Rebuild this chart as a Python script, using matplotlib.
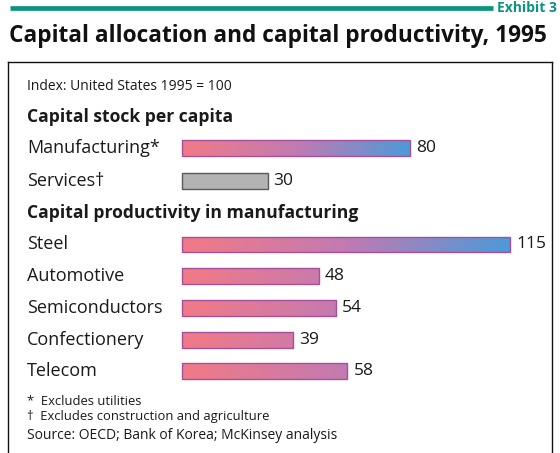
import numpy as np
import matplotlib
matplotlib.use("Agg")
from matplotlib import pyplot as plt
from matplotlib.colors import LinearSegmentedColormap
from matplotlib.lines import Line2D

# data
stock_labels = ["Manufacturing*", "Services\u2020"]
stock_values = [80, 30]
prod_labels = ["Steel", "Automotive", "Semiconductors", "Confectionery", "Telecom"]
prod_values = [115, 48, 54, 39, 58]

title = "Capital allocation and capital productivity, 1995"
note = "Index: United States 1995 = 100"
head1 = "Capital stock per capita"
head2 = "Capital productivity in manufacturing"
foot1 = "*  Excludes utilities"
foot2 = "\u2020  Excludes construction and agriculture"
source = "Source: OECD; Bank of Korea; McKinsey analysis"

plt.rcParams['font.family'] = ['Open Sans', 'DejaVu Sans']

W, H = 560, 453
fig = plt.figure(figsize=(W / 100, H / 100), dpi=100)
fig.patch.set_facecolor("white")

# teal rule + exhibit tag
teal = "#0B957F"
fig.add_artist(Line2D([10 / W, 493 / W], [1 - 8 / H, 1 - 8 / H], color=teal, lw=3.4,
                      transform=fig.transFigure, solid_capstyle="butt"))
fig.text(557 / W, 1 - 8 / H, "Exhibit 3", color=teal, fontsize=10, fontweight="bold",
         ha="right", va="center")
fig.text(9 / W, 1 - 36 / H, title, fontsize=16.3, fontweight="bold", color="#111111",
         ha="left", va="center")

# box axes
box_l, box_r, box_t = 8, 552, 62
ax = fig.add_axes([box_l / W, 0, (box_r - box_l) / W, (H - box_t) / H])
px = 2.852  # pixels per index unit
row = 31.7
for s in ["left", "top", "right"]:
    ax.spines[s].set_linewidth(1.0)
    ax.spines[s].set_color("#111111")
ax.spines["bottom"].set_visible(False)
ax.set_xticks([])
ax.set_yticks([])

cmap = LinearSegmentedColormap.from_list("pb", ["#F27A86", "#C27AB2", "#4B9BD8"])
grad = np.linspace(0, 1, 256).reshape(1, -1)
edge = "#A4509C"
bh = 0.5
lab_x = (27 - box_l) / (box_r - box_l)
tr = ax.get_yaxis_transform()
fs = 13
vfs = 12.5
sfs = 10
col = "#1a1a1a"


def grad_bar(y, v, span):
    rect = ax.barh(y, v, height=bh, color="none", edgecolor=edge, lw=1.0, zorder=3)[0]
    im = ax.imshow(grad, extent=(0, span, y + bh / 2, y - bh / 2), cmap=cmap,
                   aspect="auto", zorder=2, interpolation="bilinear")
    im.set_clip_path(rect)


ax.text(lab_x, 0, note, transform=tr, fontsize=sfs, va="center", color=col)
ax.text(lab_x, 0.98, head1, transform=tr, fontsize=12.6, fontweight="bold", va="center", color=col)

stock_y = [1.95, 3]
for y, lab, v in zip(stock_y, stock_labels, stock_values):
    ax.text(lab_x, y, lab, transform=tr, fontsize=fs, va="center", color=col)
    if lab.startswith("Manufacturing"):
        grad_bar(y, v, v)
    else:
        ax.barh(y, v, height=bh, color="#B3B3B3", edgecolor="#5a5a5a", lw=1.0, zorder=3)
    ax.text(v + 6 / px, y, str(v), fontsize=vfs, va="center", color=col)

ax.text(lab_x, 4, head2, transform=tr, fontsize=12.6, fontweight="bold", va="center", color=col)

prod_y = [5, 6, 7, 8, 9]
for y, lab, v in zip(prod_y, prod_labels, prod_values):
    ax.text(lab_x, y, lab, transform=tr, fontsize=fs, va="center", color=col)
    grad_bar(y, v, max(prod_values))
    ax.text(v + 6 / px, y, str(v), fontsize=vfs, va="center", color=col)

ax.text(lab_x, 9.94, foot1, transform=tr, fontsize=9.4, va="center", color=col)
ax.text(lab_x, 10.42, foot2, transform=tr, fontsize=9.4, va="center", color=col)
ax.text(lab_x, 11.02, source, transform=tr, fontsize=sfs, va="center", color=col)

ax.set_xlim(-(182 - box_l) / px, (box_r - 182) / px)
ax.set_ylim((453 - 86) / row, -(86 - box_t) / row)

fig.savefig("out.png", dpi=100)
